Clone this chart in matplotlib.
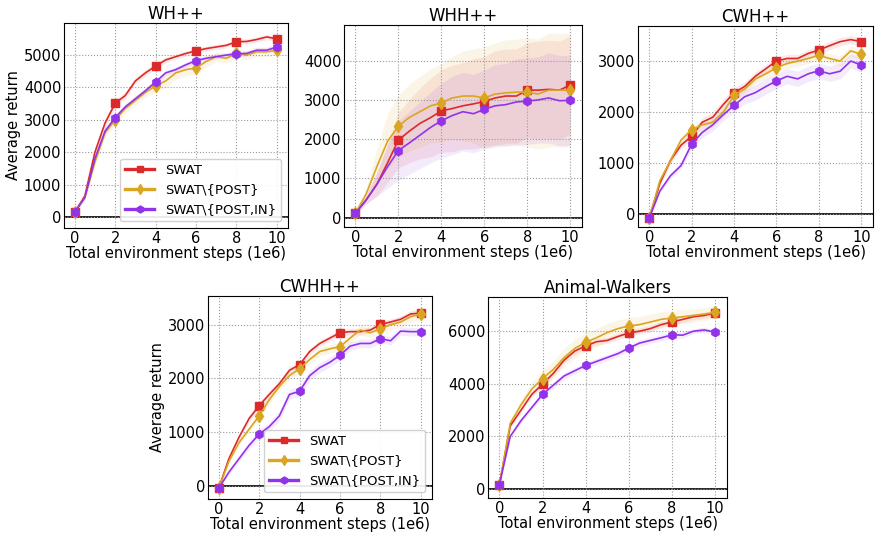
import numpy as np
import matplotlib
matplotlib.use('Agg')
import matplotlib.pyplot as plt
from matplotlib.lines import Line2D

steps = np.arange(0, 10.01, 0.5)  # 1e6 env steps

labels = ['SWAT', 'SWAT\\{POST}', 'SWAT\\{POST,IN}']
colors = ['#dc2a2a', '#daa520', '#9233ea']
markers = ['s', 'd', 'h']

# WH++
wh_swat = [150, 650, 2000, 2900, 3510, 3750, 4200, 4450, 4660, 4850, 4950, 5050, 5130, 5200, 5250, 5300, 5410, 5420, 5480, 5560, 5500]
wh_post = [150, 600, 1700, 2600, 3000, 3350, 3600, 3850, 4050, 4200, 4450, 4550, 4600, 4800, 4950, 4900, 5050, 5000, 5100, 5100, 5150]
wh_in = [150, 600, 1800, 2650, 3070, 3400, 3650, 3900, 4170, 4450, 4550, 4700, 4830, 4900, 4950, 5000, 5040, 5050, 5150, 5150, 5250]
wh_swat_sd = [30, 80, 150, 150, 120, 120, 100, 100, 90, 90, 80, 80, 80, 80, 80, 80, 80, 80, 80, 80, 80]
wh_post_sd = [30, 80, 150, 150, 120, 150, 150, 150, 200, 200, 200, 180, 180, 180, 150, 150, 150, 150, 150, 150, 150]
wh_in_sd = [30, 80, 120, 100, 80, 80, 80, 80, 80, 80, 80, 80, 80, 80, 80, 80, 80, 80, 80, 80, 80]

# WHH++
whh_swat = [110, 450, 850, 1400, 1975, 2200, 2400, 2550, 2720, 2780, 2850, 2900, 2960, 3050, 3100, 3100, 3250, 3250, 3270, 3250, 3380]
whh_post = [110, 600, 1300, 1950, 2330, 2550, 2700, 2850, 2920, 3050, 3100, 3100, 3050, 3150, 3180, 3200, 3200, 3150, 3250, 3250, 3250]
whh_in = [110, 450, 850, 1300, 1710, 1900, 2100, 2300, 2470, 2600, 2700, 2650, 2760, 2850, 2880, 2950, 2970, 3000, 3050, 2980, 2990]
whh_swat_sd = [50, 100, 300, 500, 700, 800, 900, 1000, 1050, 1100, 1100, 1150, 1150, 1200, 1200, 1200, 1200, 1250, 1250, 1250, 1250]
whh_post_sd = [50, 150, 450, 700, 800, 850, 900, 950, 1000, 1050, 1150, 1200, 1300, 1300, 1350, 1350, 1400, 1400, 1450, 1450, 1450]
whh_in_sd = [50, 100, 300, 550, 750, 800, 850, 900, 950, 1000, 1000, 1000, 1000, 1050, 1050, 1100, 1100, 1100, 1150, 1150, 1150]

# CWH++
cwh_swat = [-80, 600, 1050, 1350, 1525, 1800, 1900, 2150, 2380, 2500, 2700, 2850, 3000, 3050, 3050, 3150, 3215, 3300, 3380, 3420, 3380]
cwh_post = [-80, 650, 1050, 1450, 1650, 1750, 1800, 2000, 2330, 2450, 2650, 2750, 2870, 2950, 3000, 3050, 3110, 3050, 3000, 3200, 3130]
cwh_in = [-80, 450, 750, 950, 1370, 1600, 1750, 1950, 2130, 2300, 2380, 2500, 2610, 2700, 2650, 2750, 2810, 2750, 2800, 3000, 2920]
cwh_swat_sd = [20, 50, 60, 70, 80, 90, 100, 100, 100, 90, 90, 80, 80, 80, 80, 80, 80, 80, 80, 80, 80]
cwh_post_sd = [20, 50, 60, 70, 80, 80, 90, 100, 100, 100, 100, 100, 100, 100, 100, 100, 100, 100, 100, 100, 100]
cwh_in_sd = [20, 50, 60, 70, 90, 100, 120, 120, 130, 140, 150, 150, 150, 150, 150, 150, 150, 150, 150, 140, 140]

# CWHH++
cwhh_swat = [-50, 500, 900, 1250, 1490, 1700, 1900, 2150, 2255, 2500, 2650, 2750, 2850, 2870, 2870, 2900, 3005, 3050, 3100, 3200, 3215]
cwhh_post = [-50, 450, 800, 1050, 1300, 1600, 1850, 2050, 2180, 2350, 2500, 2550, 2590, 2750, 2900, 2850, 2920, 3000, 3050, 3150, 3200]
cwhh_in = [-50, 250, 500, 750, 960, 1100, 1300, 1700, 1760, 2050, 2200, 2300, 2430, 2600, 2650, 2650, 2740, 2700, 2880, 2870, 2870]
cwhh_swat_sd = [20, 40, 50, 60, 70, 70, 70, 70, 70, 60, 60, 60, 60, 60, 60, 60, 60, 60, 60, 60, 60]
cwhh_post_sd = [20, 40, 50, 60, 80, 80, 80, 80, 80, 80, 80, 80, 80, 90, 90, 90, 90, 90, 100, 100, 100]
cwhh_in_sd = [20, 40, 60, 70, 80, 80, 90, 90, 90, 90, 90, 90, 90, 80, 80, 80, 80, 80, 80, 80, 80]

# Animal-Walkers
aw_swat = [170, 2400, 3000, 3600, 3990, 4400, 4900, 5250, 5440, 5600, 5650, 5800, 5935, 6000, 6100, 6250, 6350, 6450, 6550, 6600, 6690]
aw_post = [170, 2500, 3200, 3800, 4200, 4550, 5000, 5350, 5580, 5750, 5950, 6100, 6200, 6250, 6350, 6450, 6500, 6550, 6600, 6650, 6720]
aw_in = [170, 2000, 2600, 3100, 3600, 3950, 4300, 4500, 4700, 4850, 5000, 5150, 5360, 5550, 5650, 5750, 5860, 5850, 6000, 6050, 5960]
aw_swat_sd = [30, 80, 100, 100, 120, 120, 120, 120, 120, 120, 120, 120, 120, 120, 120, 120, 120, 120, 120, 120, 120]
aw_post_sd = [30, 100, 200, 250, 300, 330, 350, 350, 350, 350, 350, 330, 330, 300, 300, 300, 280, 280, 250, 250, 250]
aw_in_sd = [30, 80, 100, 100, 120, 120, 120, 120, 120, 120, 120, 120, 120, 120, 120, 120, 120, 120, 100, 100, 100]

panels = [
    ('WH++', [wh_swat, wh_post, wh_in], [wh_swat_sd, wh_post_sd, wh_in_sd],
     [64, 23, 288, 228], (-340, 5990), True),
    ('WHH++', [whh_swat, whh_post, whh_in], [whh_swat_sd, whh_post_sd, whh_in_sd],
     [344, 25, 582, 227], (-238, 4910), False),
    ('CWH++', [cwh_swat, cwh_post, cwh_in], [cwh_swat_sd, cwh_post_sd, cwh_in_sd],
     [638, 26, 873, 227], (-255, 3687), False),
    ('CWHH++', [cwhh_swat, cwhh_post, cwhh_in], [cwhh_swat_sd, cwhh_post_sd, cwhh_in_sd],
     [208, 296, 432, 499], (-248, 3534), True),
    ('Animal-Walkers', [aw_swat, aw_post, aw_in], [aw_swat_sd, aw_post_sd, aw_in_sd],
     [488, 297, 727, 498], (-340, 7300), False),
]

W, H = 875, 533
fig = plt.figure(figsize=(W / 100, H / 100), dpi=100)

for title, means, sds, box, ylim, first in panels:
    l, t, r, b = box
    ax = fig.add_axes([l / W, 1 - b / H, (r - l) / W, (b - t) / H])
    ax.axhline(0, color='black', lw=1.2, zorder=1)
    for m, s, c, mk in zip(means, sds, colors, markers):
        m = np.array(m, dtype=float)
        s = np.array(s, dtype=float)
        ax.fill_between(steps, m - s, m + s, color=c, alpha=0.1, lw=0)
        ax.plot(steps, m, color=c, lw=1.2, marker=mk, markevery=4, markersize=6, zorder=3)
    ax.set_xlim(-0.53, 10.55)
    ax.set_ylim(*ylim)
    ax.set_xticks([0, 2, 4, 6, 8, 10])
    ax.grid(linestyle=':', color='#999999', linewidth=0.8)
    ax.tick_params(labelsize=10.5, length=0, pad=2)
    ax.set_title(title, fontsize=12, pad=3)
    ax.set_xlabel('Total environment steps (1e6)', fontsize=10.5, labelpad=0)
    if first:
        ax.set_ylabel('Average return', fontsize=10.5, labelpad=2)
        handles = [Line2D([0], [0], color=c, lw=2.4, marker=mk, markersize=5, label=lb)
                   for c, mk, lb in zip(colors, markers, labels)]
        ax.legend(handles=handles, loc='lower right', fontsize=9.5, handlelength=2.2,
                  borderpad=0.4, labelspacing=0.5, framealpha=0.9)

fig.savefig('out.png', dpi=100)
